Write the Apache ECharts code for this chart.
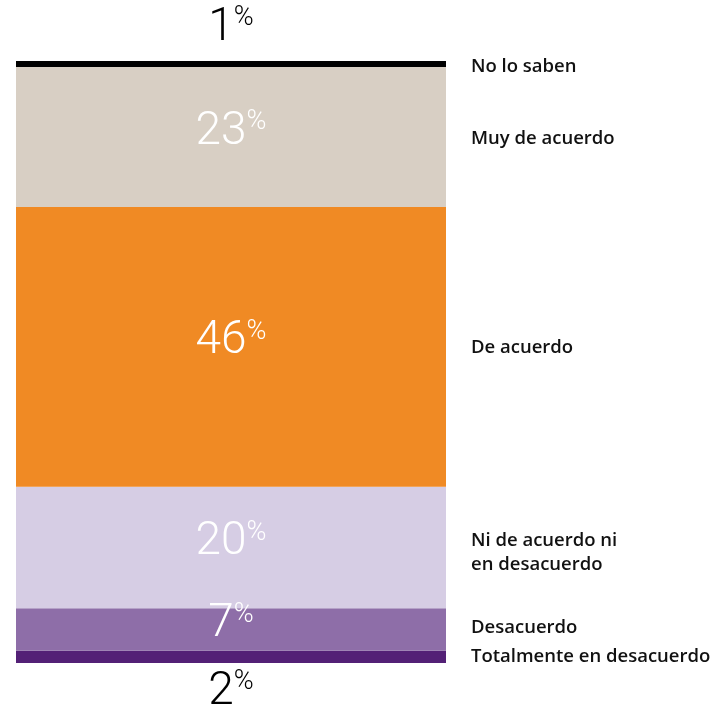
<!DOCTYPE html>
<html>
<head>
<meta charset="utf-8">
<script src="https://cdn.jsdelivr.net/npm/echarts@6/dist/echarts.min.js"></script>
<style>html,body{margin:0;padding:0;background:#fff}#c{width:721px;height:708px}</style>
</head>
<body>
<div id="c"></div>
<script>
// Data (bottom to top)
const categories = ['Totalmente en desacuerdo', 'Desacuerdo', 'Ni de acuerdo ni\nen desacuerdo', 'De acuerdo', 'Muy de acuerdo', 'No lo saben'];
const values = [2, 7, 20, 46, 23, 1];
const colors = ['#532076', '#8e6ea8', '#d6cde4', '#f08a24', '#d8cfc4', '#000000'];
const labelColors = ['#000', '#fff', '#fff', '#fff', '#fff', '#000'];
const labelPositions = ['bottom', 'inside', 'inside', 'inside', 'inside', 'top'];

const chart = echarts.init(document.getElementById('c'), null, {renderer: 'canvas'});
const numFont = 'Roboto';
const nameShift = [0, -2, 5, 1, 2, 3];
const series = [];
values.forEach((v, i) => {
  const pos = labelPositions[i];
  series.push({
    type: 'bar', stack: 'a', barWidth: 430, name: categories[i],
    data: [v],
    itemStyle: {color: colors[i]},
    silent: true,
    label: {
      show: true, position: pos,
      distance: pos === 'top' ? 10 : (pos === 'bottom' ? 6 : 5),
      offset: pos === 'inside' ? [0, -5] : [0, 0],
      formatter: () => '{n|' + v + '}{p|%}',
      rich: {
        n: {fontSize: 46, fontFamily: numFont, fontWeight: 300, color: labelColors[i], lineHeight: 46},
        p: {fontSize: 27, fontFamily: numFont, fontWeight: 300, color: labelColors[i], verticalAlign: 'top', lineHeight: 46, padding: [0,0,20,0]}
      }
    }
  });
});
values.forEach((v, i) => {
  series.push({
    type: 'bar', stack: 'b', barWidth: 430, barGap: '-100%',
    data: [v],
    itemStyle: {color: 'rgba(0,0,0,0)'},
    silent: true,
    label: {
      show: true, position: 'right', distance: 25,
      formatter: () => categories[i],
      color: '#111', fontSize: 18.5, fontWeight: 600, fontFamily: 'Open Sans',
      lineHeight: 24, align: 'left', offset: [0, nameShift[i]]
    }
  });
});

chart.setOption({
  animation: false,
  grid: {left: 16, width: 430, top: 61, height: 602},
  xAxis: {type: 'category', data: ['all'], show: false},
  yAxis: {type: 'value', min: 0, max: 99, show: false},
  series: series
});
</script>
</body>
</html>
